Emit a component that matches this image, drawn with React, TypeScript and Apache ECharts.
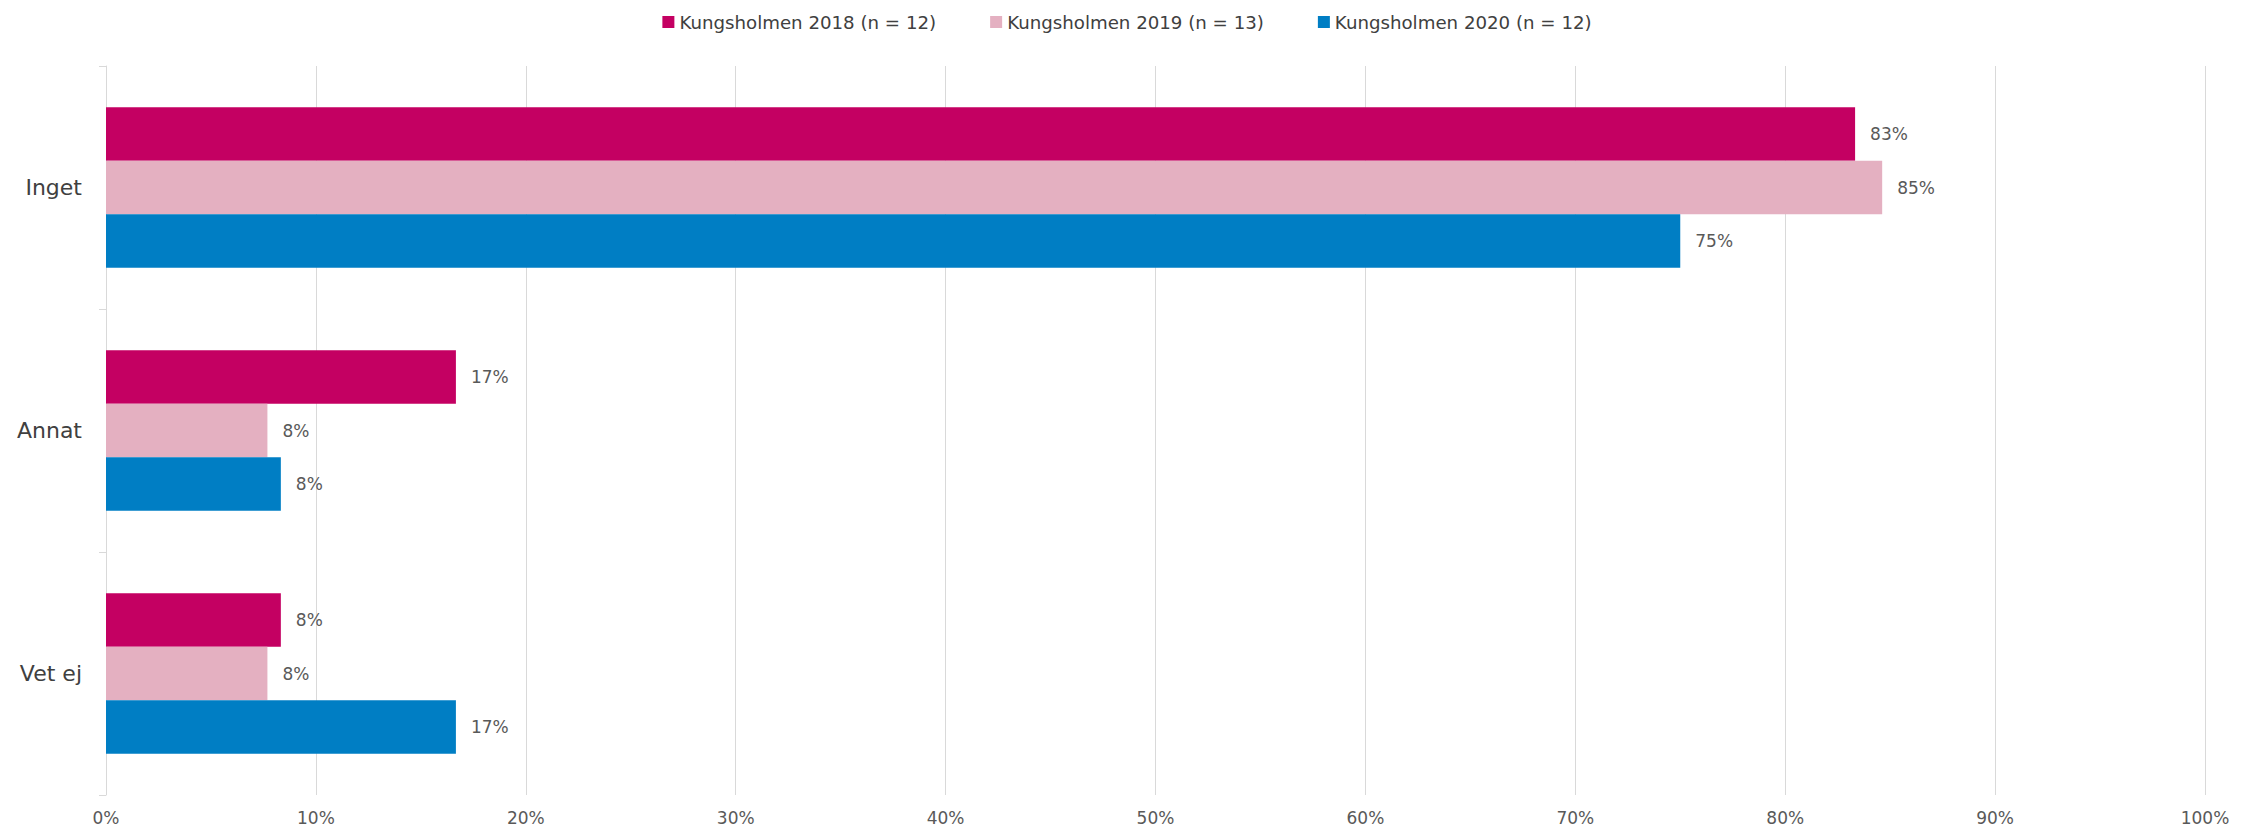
import React, { useEffect, useRef } from "react";
import * as echarts from "echarts";

const categories = ["Inget", "Annat", "Vet ej"];
const seriesNames = [
  "Kungsholmen 2018 (n = 12)",
  "Kungsholmen 2019 (n = 13)",
  "Kungsholmen 2020 (n = 12)",
];
const values2018 = [83.33, 16.67, 8.33];
const values2019 = [84.62, 7.69, 7.69];
const values2020 = [75.0, 8.33, 16.67];
const colors = ["#C40062", "#E4B0C1", "#007EC4"];

export default function App() {
  const ref = useRef<HTMLDivElement>(null);
  useEffect(() => {
    if (!ref.current) return;
    const chart = echarts.init(ref.current, null, { renderer: "svg" });
    const font = "'DejaVu Sans', 'Liberation Sans', Arial, sans-serif";
    const data = [values2018, values2019, values2020];
    chart.setOption({
      animation: false,
      textStyle: { fontFamily: font },
      legend: {
        top: 8,
        left: "center",
        itemWidth: 12,
        itemHeight: 12,
        itemGap: 54,
        icon: "rect",
        textStyle: { fontSize: 18.2, color: "#404040", fontFamily: font },
        data: seriesNames,
      },
      grid: { left: 106, right: 49, top: 66, bottom: 32, containLabel: false },
      xAxis: {
        type: "value",
        min: 0,
        max: 100,
        interval: 10,
        axisLine: { show: false },
        axisTick: { show: false },
        splitLine: { show: true, lineStyle: { color: "#D9D9D9", width: 1 } },
        axisLabel: {
          formatter: "{value}%",
          fontSize: 17,
          color: "#595959",
          margin: 14,
          fontFamily: font,
        },
      },
      yAxis: {
        type: "category",
        inverse: true,
        data: categories,
        axisLine: { show: true, lineStyle: { color: "#D9D9D9", width: 1 } },
        axisTick: { show: true, length: 7, lineStyle: { color: "#D9D9D9" } },
        axisLabel: { fontSize: 22, color: "#404040", margin: 24, fontFamily: font },
      },
      series: seriesNames.map((name, i) => ({
        name,
        type: "bar",
        data: data[i],
        itemStyle: { color: colors[i] },
        barGap: "0%",
        barCategoryGap: "34%",
        label: {
          show: true,
          position: "right",
          distance: 15,
          formatter: (p: any) => Math.round(p.value) + "%",
          fontSize: 17,
          color: "#595959",
          fontFamily: font,
        },
      })),
    });
    return () => chart.dispose();
  }, []);
  return (
    <div
      ref={ref}
      style={{ position: "absolute", left: 0, top: 0, width: 2254, height: 827, background: "#fff" }}
    />
  );
}
